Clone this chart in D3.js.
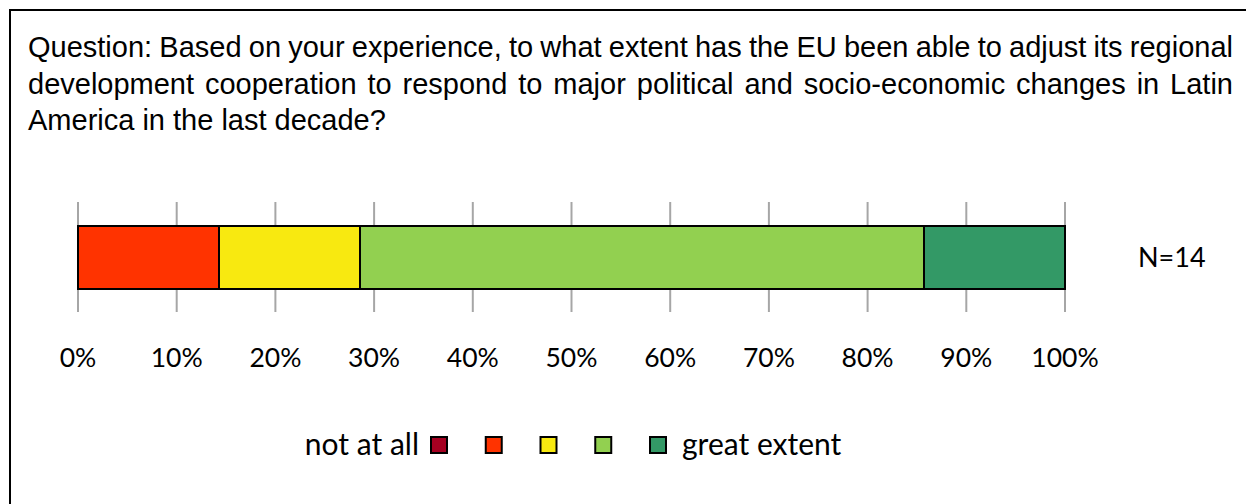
<!DOCTYPE html>
<html lang="en">

<head>
    <meta charset="UTF-8">
    <title>EU regional development cooperation</title>
    <style>
        body { margin: 0; background: #fff; }
    </style>
</head>

<body>
    <svg width="1246" height="504" id="svg"></svg>
    <script src="https://d3js.org/d3.v7.min.js"></script>
    <script>
        // answer scale, 1 = not at all ... 5 = great extent
        const levels = ["not at all", "2", "3", "4", "great extent"]
        const counts = [0, 2, 2, 8, 2]
        const colors = ["#a50021", "#ff3300", "#f8e910", "#92d050", "#339966"]
        const ticks = [0, 10, 20, 30, 40, 50, 60, 70, 80, 90, 100]
        const N = 14
        const questionLines = [
            "Question: Based on your experience, to what extent has the EU been able to adjust its regional",
            "development cooperation to respond to major political and socio-economic changes in Latin",
            "America in the last decade?"
        ]

        const svg = d3.select("svg#svg")
        const width = +svg.attr("width")
        const height = +svg.attr("height")

        svg.append("rect")
            .attr("x", 10).attr("y", 10)
            .attr("width", width).attr("height", height)
            .attr("fill", "none").attr("stroke", "#000").attr("stroke-width", 2)

        // question text, justified like the original
        const qLeft = 28, qRight = 1233
        const q = svg.append("g").attr("font-family", "Liberation Sans, Arial, sans-serif")
            .attr("font-size", 29).attr("fill", "#000")
        questionLines.forEach((line, i) => {
            const y = 57 + i * 36.5
            const words = line.split(" ")
            if (i === questionLines.length - 1) {
                q.append("text").attr("x", qLeft).attr("y", y).text(line)
                return
            }
            const widths = words.map(w => {
                const t = q.append("text").text(w)
                const len = t.node().getComputedTextLength()
                t.remove()
                return len
            })
            const gap = (qRight - qLeft - d3.sum(widths)) / (words.length - 1)
            let x = qLeft
            words.forEach((w, j) => {
                q.append("text").attr("x", x).attr("y", y).text(w)
                x += widths[j] + gap
            })
        })

        // bar
        const xScale = d3.scaleLinear().domain([0, 100]).range([78, 1065])
        const shares = counts.map(c => c / N * 100)
        const ends = d3.cumsum(shares)
        const segs = shares.map((s, i) => ({ start: ends[i] - s, end: ends[i], color: colors[i] }))
            .filter(d => d.end > d.start)

        const barTop = 226, barH = 63

        svg.append("g").selectAll("line").data(ticks).join("line")
            .attr("x1", d => xScale(d)).attr("x2", d => xScale(d))
            .attr("y1", 202).attr("y2", 312)
            .attr("stroke", "#a6a6a6").attr("stroke-width", 2)

        svg.append("g").selectAll("rect").data(segs).join("rect")
            .attr("x", d => xScale(d.start)).attr("width", d => xScale(d.end) - xScale(d.start))
            .attr("y", barTop).attr("height", barH)
            .attr("fill", d => d.color).attr("stroke", "#000").attr("stroke-width", 2)

        const lab = svg.append("g").attr("font-family", "Lato, Open Sans, sans-serif")
            .attr("font-size", 26.5).attr("fill", "#000")
        lab.selectAll("text").data(ticks).join("text")
            .attr("x", d => xScale(d)).attr("y", 367)
            .attr("text-anchor", "middle")
            .text(d => d + "%")

        lab.append("text").attr("x", 1138).attr("y", 267).attr("font-size", 27).text("N=" + N)

        // legend
        const lx = d3.scalePoint().domain(levels).range([430, 649])
        const lg = svg.append("g")
        lg.selectAll("rect").data(levels).join("rect")
            .attr("x", d => lx(d) + 1).attr("y", 437)
            .attr("width", 16).attr("height", 16)
            .attr("fill", (d, i) => colors[i]).attr("stroke", "#000").attr("stroke-width", 2)
        lab.append("text").attr("x", 419).attr("y", 455).attr("font-size", 30)
            .attr("text-anchor", "end").text(levels[0])
        lab.append("text").attr("x", 682).attr("y", 455).attr("font-size", 30).text(levels[4])
    </script>
</body>

</html>
